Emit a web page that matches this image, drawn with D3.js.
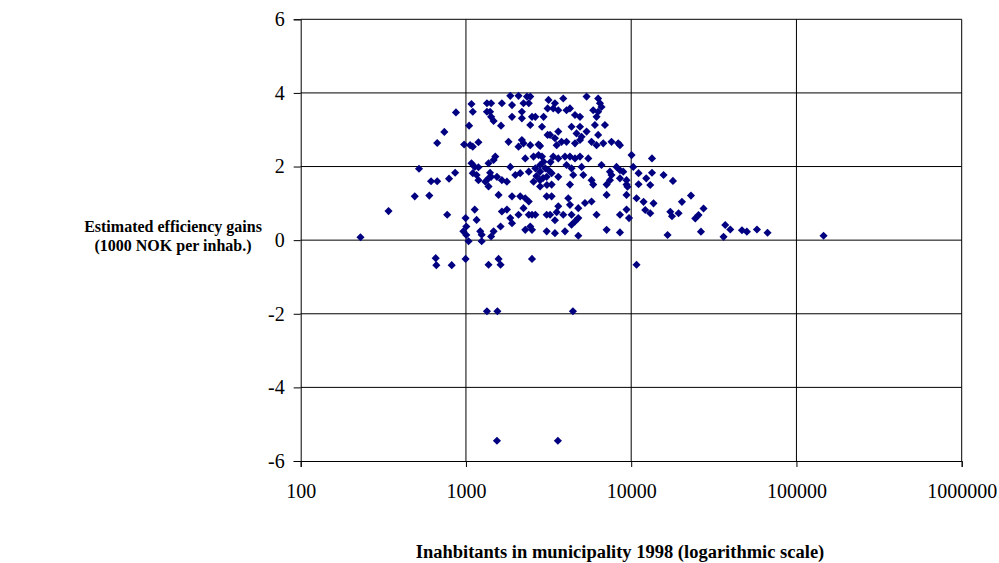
<!DOCTYPE html>
<html>
<head>
<meta charset="utf-8">
<script src="https://cdn.jsdelivr.net/npm/d3@7"></script>
<style>
  body { margin: 0; background: #fff; }
  svg { display: block; }
  .tick-label { font-family: "Liberation Serif", "Times New Roman", serif; font-size: 20px; fill: #000; }
  .axis-title { font-family: "Liberation Serif", "Times New Roman", serif; font-weight: bold; fill: #000; }
</style>
</head>
<body>
<script>
// inhabitants 1998 and estimated gain (1000 NOK per inhab.)
var population = [
  230, 340, 490, 600, 520, 615, 670, 790, 860, 770, 670, 740, 870, 656, 662, 820, 1005,
  1080, 1100, 1045, 975, 1060, 1100, 1190, 1340, 1420, 1340, 1420, 1470, 1400, 1650, 1855,
  2080, 1900, 1900, 2180, 2230, 2340, 2450, 2400, 2510, 2630, 2180, 2450, 2885, 2950, 3120,
  3160, 1630, 1810, 2080, 2230, 2180, 2450, 2750, 2810, 3120, 1080, 1130, 1100, 1160, 1370,
  1505, 1470, 1190, 1310, 1370, 1420, 1540, 1650, 1770, 1855, 1990, 2130, 2285, 2400, 2565,
  2750, 2885, 2810, 2630, 2810, 3020, 3080, 2810, 2565, 1190, 1400,
  3880, 3455, 3375, 3620, 4060, 4260, 4570, 4900, 5370, 6310, 6470, 5890, 6310, 6170, 6610,
  4355, 4900, 4670, 5010, 4900, 5370, 6030, 6310, 6935, 6775, 7600, 8350, 8550, 3620, 3455,
  3540, 3790, 4060, 3230, 4570, 5755, 6170, 3375, 3620, 3975, 4260, 4570, 4900, 5500, 6610,
  7435, 7600, 8150, 8550, 8950, 10050, 10290, 3300, 3620, 4060, 4355, 4460, 5010, 5130, 5755,
  7435, 8550, 9370,
  1370, 1575, 1900, 2130, 2285, 2400, 1130, 995, 1160, 1005, 965, 1220, 1245, 1470, 1420,
  1620, 1650, 1770, 1855, 1900, 2080, 2230, 2400, 2510, 2630, 3080, 2285, 2450, 2510, 3080,
  1037, 1245, 995, 1370, 1575, 1620, 2510, 2810, 3080,
  3300, 4260, 5890, 7100, 9370, 3300, 4160, 4260, 3620, 4785, 5250, 5755, 7100, 9370, 10770,
  3230, 3540, 3880, 4355, 4785, 4570, 4355, 3455, 6170, 8550, 9370, 9700, 3455, 3975, 4785,
  7100, 8550, 10770,
  13360, 11080, 13360, 15700, 17890, 9500, 12330, 11080, 13040, 11880, 13650, 12160, 13040,
  20280, 23000, 17240, 17650, 19350, 27400, 25550, 24420, 16600, 26430, 36220, 37070, 39760,
  46800, 50120, 57680, 66840, 145900,
  1340, 1550, 4440, 1540, 3600,
  2950, 3165, 2930, 2670, 3250, 3090
];
var gain = [
  0.08, 0.79, 1.19, 1.21, 1.94, 1.6, 1.6, 1.67, 1.83, 0.69, 2.64, 2.94, 3.47, -0.49, -0.68, -0.68, 0.14,
  3.70, 3.49, 3.11, 2.6, 2.58, 2.54, 2.66, 3.72, 3.72, 3.49, 3.35, 3.24, 3.49, 3.72, 3.92,
  3.92, 3.67, 3.35, 3.49, 3.72, 3.9, 3.9, 3.72, 3.35, 3.35, 3.31, 3.13, 3.08, 3.35, 3.58,
  3.81, 3.11, 2.67, 2.54, 2.63, 2.72, 2.58, 2.6, 2.56, 2.86, 2.09, 1.99, 1.82, 1.77, 2.09,
  2.27, 2.18, 1.63, 1.59, 1.68, 1.72, 1.72, 1.63, 1.59, 1.99, 1.77, 1.82, 2.22, 1.86, 2.27,
  2.31, 2.27, 2.04, 1.95, 1.86, 1.95, 1.72, 1.63, 1.59, 1.98, 1.83,
  3.85, 3.72, 3.58, 3.53, 3.53, 3.58, 3.40, 3.35, 3.9, 3.85, 3.72, 3.53, 3.49, 3.35, 3.62,
  3.08, 3.08, 2.9, 2.81, 2.72, 2.95, 3.13, 2.86, 3.13, 2.63, 2.67, 2.63, 2.58, 2.95, 2.77,
  2.58, 2.67, 2.67, 2.86, 2.63, 2.67, 2.58, 2.27, 2.22, 2.27, 2.27, 2.22, 2.27, 2.22, 2.04,
  1.86, 1.77, 1.99, 1.9, 1.86, 2.31, 1.99, 1.82, 1.72, 2.04, 1.95, 1.77, 1.99, 1.77, 1.63,
  1.63, 1.68, 1.63,
  1.46, 1.23, 1.19, 1.19, 1.14, 1.05, 0.83, 0.6, 0.55, 0.37, 0.24, 0.24, 0.15, 0.24, 0.1,
  0.37, 0.78, 0.83, 0.6, 0.46, 0.69, 0.87, 0.69, 0.69, 0.69, 0.69, 0.28, 0.37, 0.28, 0.24,
  -0.03, -0.03, -0.51, -0.67, -0.51, -0.67, -0.51, 1.46, 1.19,
  1.51, 1.51, 1.51, 1.51, 1.51, 1.19, 1.14, 0.96, 0.92, 0.87, 1.01, 1.05, 1.23, 1.23, 1.14,
  0.69, 0.76, 0.69, 0.69, 0.6, 0.51, 0.42, 0.54, 0.69, 0.69, 0.83, 0.6, 0.19, 0.24, 0.12,
  0.28, 0.21, -0.67,
  2.22, 1.82, 1.83, 1.77, 1.61, 1.45, 1.68, 1.52, 1.5, 1.04, 1.0, 0.82, 0.73,
  1.04, 1.21, 0.77, 0.65, 0.73, 0.86, 0.68, 0.59, 0.14, 0.23, 0.09, 0.41, 0.29,
  0.27, 0.23, 0.29, 0.2, 0.12,
  -1.93, -1.93, -1.93, -5.45, -5.45,
  2.13, 1.9, 1.69, 1.74, 2.12, 1.5
];
var xTicks = [100, 1000, 10000, 100000, 1000000];
var yTicks = [-6, -4, -2, 0, 2, 4, 6];
var yTitle = ["Estimated efficiency gains", "(1000 NOK per inhab.)"];
var xTitle = "Inahbitants in municipality 1998 (logarithmic scale)";

var width = 999, height = 563,
    plot = {left: 300.7, right: 961.7, top: 19.3, bottom: 461};

var svg = d3.select("body").append("svg").attr("width", width).attr("height", height);

var x = d3.scaleLog().domain([100, 1000000]).range([plot.left, plot.right]),
    y = d3.scaleLinear().domain([-6, 6]).range([plot.bottom, plot.top]);

// gridlines
var grid = svg.append("g").attr("stroke", "#000").attr("stroke-width", 1);
grid.selectAll("line.h").data(yTicks.filter(function(d) { return d > -6; })).enter().append("line")
    .attr("class", "h")
    .attr("x1", plot.left).attr("x2", plot.right)
    .attr("y1", function(d) { return y(d); }).attr("y2", function(d) { return y(d); });
grid.selectAll("line.v").data(xTicks.filter(function(d) { return d > 100; })).enter().append("line")
    .attr("class", "v")
    .attr("y1", plot.top).attr("y2", plot.bottom)
    .attr("x1", function(d) { return x(d); }).attr("x2", function(d) { return x(d); });

// axes (plain hyphen for negatives, like the original)
var plain = function(d) { return String(d); };
var yAxis = d3.axisLeft(y).tickValues(yTicks).tickSize(7).tickPadding(9).tickFormat(plain);
var xAxis = d3.axisBottom(x).tickValues(xTicks).tickSize(6).tickPadding(17).tickFormat(plain);

function styleAxis(g) {
    g.select(".domain").attr("stroke", "#000");
    g.selectAll(".tick line").attr("stroke", "#000");
    g.selectAll(".tick text").attr("class", "tick-label").attr("font-size", null).attr("font-family", null);
}
svg.append("g").attr("transform", "translate(" + plot.left + ",0)").call(yAxis).call(styleAxis);
svg.append("g").attr("transform", "translate(0," + plot.bottom + ")").call(xAxis).call(styleAxis);

// points
var points = population.map(function(p, i) { return {pop: p, gain: gain[i]}; });
var diamond = d3.symbol().type(d3.symbolSquare).size(33);

svg.append("g").selectAll("path").data(points).enter().append("path")
    .attr("d", diamond)
    .attr("transform", function(d) { return "translate(" + x(d.pop) + "," + y(d.gain) + ") rotate(45)"; })
    .attr("fill", "#000080");

// titles
svg.append("text").attr("class", "axis-title")
    .attr("text-anchor", "middle").attr("font-size", 16)
    .selectAll("tspan").data(yTitle).enter().append("tspan")
    .attr("x", 173).attr("y", function(d, i) { return 232 + i * 19; })
    .text(function(d) { return d; });

svg.append("text").attr("class", "axis-title")
    .attr("text-anchor", "middle").attr("font-size", 18.5)
    .attr("x", 620).attr("y", 558)
    .text(xTitle);
</script>
</body>
</html>
